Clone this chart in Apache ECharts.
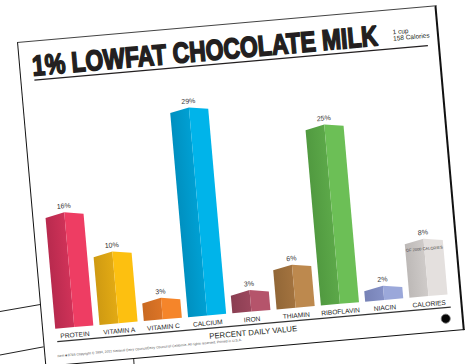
<!DOCTYPE html>
<html>
<head>
<meta charset="utf-8">
<script src="https://cdn.jsdelivr.net/npm/echarts@6/dist/echarts.min.js"></script>
<style>
  html, body { margin: 0; padding: 0; background: #fff; }
  body { width: 467px; height: 364px; position: relative; overflow: hidden; }
  #bg { position: absolute; left: 0; top: 0; }
  #poster {
    position: absolute; left: 17px; top: 42px; width: 421px; height: 326px;
    box-sizing: border-box; background: #fff;
    border-top: 1px solid #444; border-left: 1.5px solid #111;
    border-right: 2px solid #111; border-bottom: 1.5px solid #111;
    transform-origin: 0 0; transform: rotate(-5deg);
  }
  #chart { position: absolute; left: 0; top: 0; width: 418px; height: 324px; }
</style>
</head>
<body>
<svg id="bg" width="467" height="364">
  <line x1="0" y1="311.5" x2="46" y2="303.5" stroke="#222" stroke-width="1"/>
  <line x1="0" y1="355" x2="48" y2="346" stroke="#222" stroke-width="1"/>
  <line x1="133.5" y1="356" x2="134" y2="364" stroke="#222" stroke-width="1"/>
</svg>
<div id="poster"><div id="chart"></div></div>
<script>
const categories = ['PROTEIN', 'VITAMIN A', 'VITAMIN C', 'CALCIUM', 'IRON', 'THIAMIN', 'RIBOFLAVIN', 'NIACIN', 'CALORIES'];
const values = [16, 10, 3, 29, 3, 6, 25, 2, 8];
const valueLabels = ['16%', '10%', '3%', '29%', '3%', '6%', '25%', '2%', '8%'];
const titleText = '1% LOWFAT CHOCOLATE MILK';
const servingText = ['1 cup', '158 Calories'];
const axisTitle = 'PERCENT DAILY VALUE';
const caloriesNote = 'OF 2000 CALORIES';
const footnote = 'Item \u25A0 9765 Copyright \u00A9 1994, 2011 National Dairy Council/Dairy Council of California. All rights reserved. Printed in U.S.A.';

const frontColors = ['#ee3d63', '#fdc010', '#f5852a', '#00b4ea', '#b5546b', '#bd894e', '#6cbf56', '#9ba8da', '#e4e0de'];
const sideColors  = ['#cf3258', '#e2aa14', '#dc7426', '#00a0d3', '#9c475d', '#a3733f', '#5ca849', '#8591c6', '#cfcbc9'];
const sideEdge    = ['#b82a4e', '#cf9a12', '#c96a22', '#0090c0', '#8a3e52', '#926737', '#519a40', '#7782b6', '#bdb9b7'];

const chart = echarts.init(document.getElementById('chart'), null, { renderer: 'svg' });
const ink = '#231f20';
const sans = 'Liberation Sans, Arial, sans-serif';

function renderItem(params, api) {
  const i = api.value(0);
  const v = api.value(1);
  const top = api.coord([i, v]);
  const base = api.coord([i, 0]);
  const band = api.size([1, 0])[0];
  const w = band * 0.86;
  const x0 = top[0] - w / 2, xm = top[0], x1 = top[0] + w / 2;
  const yt = top[1], yb = base[1];
  const children = [
    { type: 'polygon', shape: { points: [[x0, yb], [x0, yt + 4], [xm, yt], [xm, yb]] },
      style: { fill: new echarts.graphic.LinearGradient(0, 0, 1, 0, [
        { offset: 0, color: sideEdge[i] }, { offset: 1, color: sideColors[i] }]) } },
    { type: 'polygon', shape: { points: [[xm, yb], [xm, yt], [x1, yt + 3], [x1, yb]] },
      style: { fill: frontColors[i] } },
    { type: 'text', style: { text: valueLabels[i], x: xm, y: yt - 3, align: 'center', verticalAlign: 'bottom',
      fontSize: 7, fontFamily: sans, fill: '#333' } }
  ];
  if (categories[i] === 'CALORIES') {
    children.push({ type: 'text', style: { text: caloriesNote, x: xm, y: yt + 10, align: 'center', verticalAlign: 'middle',
      fontSize: 4, fontFamily: sans, fill: '#444' } });
  }
  return { type: 'group', children };
}

chart.setOption({
  animation: false,
  grid: { left: 9, right: 9, top: 72, bottom: 36 },
  xAxis: {
    type: 'category', data: categories,
    axisLine: { show: false }, axisTick: { show: false }, splitLine: { show: false },
    axisLabel: { color: '#222', fontSize: 6.6, margin: 4, fontFamily: sans, interval: 0 },
    name: axisTitle, nameLocation: 'middle', nameGap: 17,
    nameTextStyle: { color: ink, fontSize: 7.8, fontFamily: sans }
  },
  yAxis: { type: 'value', min: 0, max: 30, show: false },
  series: [{
    type: 'custom', renderItem,
    data: values.map((v, i) => [i, v]),
    encode: { x: 0, y: 1 }
  }],
  graphic: [
    { type: 'text', x: 12, y: 24, scaleX: 0.805, style: { text: titleText, x: 0, y: 0, verticalAlign: 'middle',
      fill: ink, stroke: ink, lineWidth: 1.6, fontSize: 28.5, fontWeight: 'bold', fontFamily: sans } },
    { type: 'text', left: 374, top: 18, style: { text: servingText.join('\n'), fill: ink, fontSize: 6.5, lineHeight: 6.5,
      fontFamily: sans } },
    { type: 'line', shape: { x1: 13, y1: 38.5, x2: 408, y2: 38.5 }, style: { stroke: ink, lineWidth: 1.3 } },
    { type: 'line', shape: { x1: 13, y1: 301, x2: 408, y2: 301 }, style: { stroke: '#333', lineWidth: 1.2 } },
    { type: 'circle', shape: { cx: 402, cy: 312, r: 4.5 }, style: { fill: '#050505', stroke: '#777', lineWidth: 0.8 } },
    { type: 'text', left: 12, top: 314, style: { text: footnote, fill: '#555', fontSize: 3.4, fontFamily: sans } }
  ]
});
</script>
</body>
</html>
